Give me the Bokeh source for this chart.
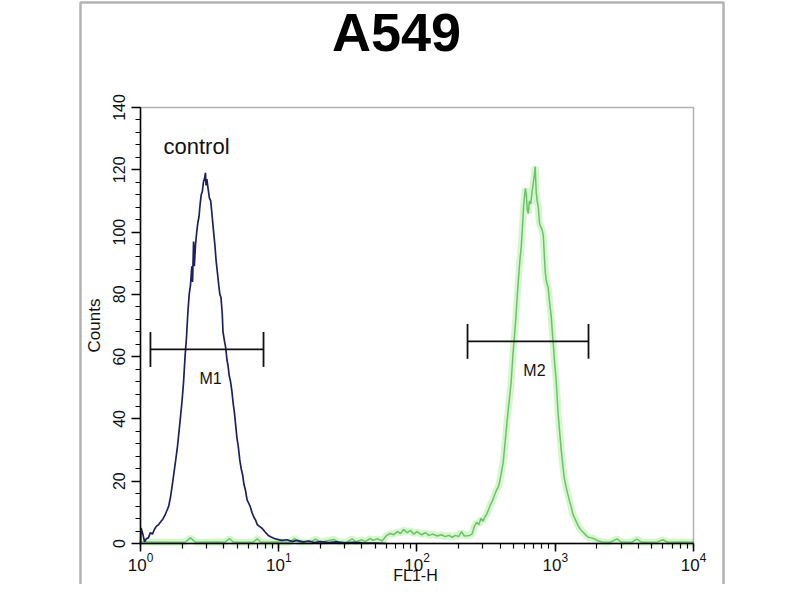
from bokeh.plotting import figure
from bokeh.models import (Range1d, SingleIntervalTicker, LogTicker, Label,
                          BoxAnnotation, ColumnDataSource)
from bokeh.embed import file_html
from bokeh.resources import INLINE

# ---------------- data ----------------
title_text = "A549"
x_label = "FL1-H"
y_label = "Counts"
control_label = "control"

control_x = [1.00, 1.01, 1.04, 1.07, 1.10, 1.14, 1.18, 1.22, 1.26, 1.30, 1.35, 1.40,
             1.45, 1.50, 1.55, 1.60, 1.65, 1.70, 1.75, 1.80, 1.85, 1.90, 1.95, 2.00,
             2.05, 2.10, 2.15, 2.20, 2.25, 2.30, 2.35, 2.38, 2.42, 2.45, 2.50, 2.55,
             2.60, 2.65, 2.70, 2.75, 2.80, 2.85, 2.90, 2.95, 2.98, 3.02, 3.08, 3.15,
             3.22, 3.30, 3.38, 3.45, 3.52, 3.60, 3.68, 3.75, 3.82, 3.90, 3.95, 4.05,
             4.13, 4.22, 4.30, 4.38, 4.48, 4.58, 4.68, 4.78, 4.88, 4.98, 5.10, 5.22,
             5.35, 5.48, 5.60, 5.75, 5.90, 6.05, 6.20, 6.40, 6.60, 6.80, 7.00, 7.30,
             7.60, 8.00, 8.40, 8.80, 9.30, 9.80, 10.5, 11.5, 12.5, 13.5, 15.0, 16.5,
             18.0, 20.0, 23.0, 26.0, 30.0, 35.0, 40.0, 50.0, 60.0]
control_counts = [0.0, 5.0, 3.0, 0.5, 1.5, 1.8, 3.5, 3.0, 4.5, 5.5, 6.0, 7.0,
                  7.8, 9.0, 10.5, 12.0, 15.0, 19.0, 23.0, 27.0, 31.0, 36.0, 41.0, 46.0,
                  52.0, 60.0, 66.0, 74.0, 80.0, 83.0, 89.0, 84.0, 97.0, 89.0, 96.0, 100.0,
                  103.0, 105.0, 109.0, 112.0, 113.0, 116.0, 117.0, 119.0, 115.0, 117.0, 114.0, 111.0,
                  110.0, 105.0, 100.0, 96.0, 91.0, 87.0, 83.0, 80.0, 79.0, 74.0, 68.0, 65.0,
                  63.0, 59.0, 57.0, 54.0, 52.0, 49.0, 45.0, 42.0, 38.0, 34.0, 31.0, 27.0,
                  24.0, 22.0, 19.0, 17.0, 14.0, 13.0, 12.0, 10.0, 8.5, 7.5, 6.0, 5.4,
                  4.8, 3.6, 2.6, 2.1, 1.6, 1.3, 1.0, 1.2, 0.6, 1.0, 0.5, 0.8,
                  0.3, 0.6, 0.3, 0.5, 0.2, 0.4, 0.2, 0.1, 0.0]

sample_x = [1.0, 1.5, 2.1, 2.3, 2.5, 3.5, 4.1, 4.4, 4.7, 6.5, 7.0, 7.4,
            10.0, 12.0, 13.0, 14.0, 17.0, 18.5, 20.0, 25.0, 27.0, 31.0, 34.0, 36.0,
            40.0, 42.0, 46.0, 48.0, 52.0, 56.0, 60.0, 64.0, 68.0, 72.0, 76.0, 80.0,
            85.0, 90.0, 95.0, 100.0, 108.0, 115.0, 122.0, 130.0, 140.0, 150.0, 160.0, 170.0,
            180.0, 190.0, 200.0, 210.0, 220.0, 230.0, 240.0, 250.0, 260.0, 270.0, 280.0, 290.0,
            300.0, 310.0, 320.0, 330.0, 340.0, 350.0, 360.0, 375.0, 390.0, 405.0, 420.0, 435.0,
            450.0, 465.0, 480.0, 495.0, 510.0, 520.0, 530.0, 540.0, 555.0, 567.0, 580.0, 590.0,
            598.0, 608.0, 618.0, 628.0, 638.0, 650.0, 665.0, 680.0, 695.0, 705.0, 716.0, 728.0,
            740.0, 755.0, 768.0, 780.0, 800.0, 819.0, 835.0, 847.0, 865.0, 890.0, 912.0, 935.0,
            952.0, 968.0, 990.0, 1017.0, 1035.0, 1052.0, 1080.0, 1105.0, 1135.0, 1162.0, 1200.0, 1230.0,
            1262.0, 1300.0, 1340.0, 1373.0, 1420.0, 1470.0, 1543.0, 1600.0, 1680.0, 1734.0, 1820.0, 1917.0,
            2050.0, 2200.0, 2500.0, 2800.0, 3000.0, 3600.0, 3900.0, 4200.0, 5500.0, 6000.0, 6500.0, 8000.0,
            10000.0]
sample_counts = [0.5, 0.4, 0.4, 1.8, 0.4, 0.5, 0.4, 1.6, 0.4, 0.4, 1.5, 0.4,
                 0.5, 0.4, 1.6, 0.4, 0.5, 1.4, 0.4, 1.3, 0.5, 0.4, 1.5, 0.5,
                 1.2, 0.5, 1.6, 1.0, 1.5, 0.8, 2.5, 3.2, 2.8, 3.8, 3.2, 4.5,
                 3.5, 4.2, 3.0, 3.8, 2.8, 3.5, 2.6, 3.0, 2.4, 2.8, 2.2, 2.6,
                 2.0, 2.6, 2.2, 3.8, 2.4, 2.5, 2.6, 3.0, 5.5, 6.8, 6.0, 8.0,
                 7.2, 8.5, 9.5, 11.0, 12.5, 13.5, 15.0, 17.0, 18.5, 22.0, 26.0, 33.0,
                 40.0, 46.0, 52.0, 61.0, 68.0, 73.0, 79.0, 84.0, 91.0, 95.0, 102.0, 108.0,
                 111.0, 114.0, 112.0, 107.0, 106.0, 110.0, 109.0, 113.0, 116.0, 118.0, 121.0, 113.0,
                 110.0, 108.0, 103.0, 102.0, 101.0, 99.0, 92.0, 87.0, 84.0, 82.0, 77.0, 73.0,
                 68.0, 64.0, 58.0, 52.0, 46.0, 41.0, 35.0, 30.0, 25.0, 21.0, 18.0, 16.0,
                 14.0, 12.0, 9.5, 8.4, 7.0, 5.5, 4.2, 3.5, 2.5, 2.0, 1.8, 1.5,
                 0.8, 0.5, 0.4, 1.5, 0.4, 0.5, 1.4, 0.4, 0.5, 1.2, 0.4, 0.5,
                 0.4]

gate_names = ["M1", "M2"]
gate_lo = [1.18, 232.0]
gate_hi = [7.76, 1740.0]
gate_level = [62.3, 64.9]
gate_label_x = [3.21, 707.0]

x_axis_min, x_axis_max = 1, 10000
y_axis_min, y_axis_max = 0, 140

# ---------------- figure ----------------
FONT = "Liberation Sans"

# The frame covers the whole outer panel; the axes are fixed inside it.
p = figure(width=784, height=584, x_axis_type="log",
           x_range=Range1d(0.3444, 17618), y_range=Range1d(-13.17, 174.36),
           output_backend="svg", toolbar_location=None, title=None,
           min_border_left=76, min_border_right=57,
           min_border_top=0, min_border_bottom=0)
p.grid.visible = False
p.background_fill_color = "white"
p.border_fill_color = "white"
p.outline_line_color = None

for ax in (p.xaxis[0], p.yaxis[0]):
    ax.axis_line_color = "black"
    ax.axis_line_width = 1.5
    ax.major_tick_line_color = "black"
    ax.major_tick_line_width = 1.5
    ax.minor_tick_line_color = "black"
    ax.minor_tick_line_width = 1.2
    ax.major_tick_in = 0
    ax.minor_tick_in = 0
    ax.major_tick_out = 9
    ax.minor_tick_out = 5
    ax.major_label_text_font = FONT
    ax.major_label_text_color = "#111111"
    ax.axis_label_text_font = FONT
    ax.axis_label_text_font_style = "normal"
    ax.axis_label_text_color = "#111111"

yax = p.yaxis[0]
yax.fixed_location = x_axis_min
yax.bounds = (y_axis_min, y_axis_max)
yax.ticker = SingleIntervalTicker(interval=20, num_minor_ticks=5)
yax.major_label_orientation = "vertical"
yax.major_label_text_font_size = "16px"
yax.axis_label = y_label
yax.axis_label_text_font_size = "17px"
yax.axis_label_standoff = 7
yax.major_label_standoff = 6

xax = p.xaxis[0]
xax.fixed_location = y_axis_min
xax.bounds = (x_axis_min, x_axis_max)
xax.ticker = LogTicker(mantissas=[1], num_minor_ticks=10)
xax.major_tick_out = 8
xax.major_label_text_font_size = "17px"
xax.major_label_standoff = 2

# inner plot box (top and right sides)
p.add_layout(BoxAnnotation(left=x_axis_min, right=x_axis_max,
                           bottom=y_axis_min, top=y_axis_max,
                           fill_alpha=0, line_color="black", line_width=1.5))
# outer panel box (its bottom runs past the picture)
p.add_layout(BoxAnnotation(left=0.3681, right=16482, bottom=-60, top=173.7,
                           fill_alpha=0, line_color="#000000", line_width=2.5))

# sample (green) histogram with glow
src_s = ColumnDataSource(dict(x=sample_x, y=sample_counts))
p.line("x", "y", source=src_s, line_color="#c4f3b8", line_width=7, line_alpha=0.7)
p.line("x", "y", source=src_s, line_color="#6cc06c", line_width=1.5)

# control (navy) histogram
src_c = ColumnDataSource(dict(x=control_x, y=control_counts))
p.line("x", "y", source=src_c, line_color="#1f2060", line_width=1.7)

# gates
cap = 5.6
p.segment(x0=gate_lo, x1=gate_hi, y0=gate_level, y1=gate_level,
          line_color="#111111", line_width=1.8)
p.segment(x0=gate_lo, x1=gate_lo, y0=[v - cap for v in gate_level],
          y1=[v + cap for v in gate_level], line_color="#111111", line_width=1.8)
p.segment(x0=gate_hi, x1=gate_hi, y0=[v - cap for v in gate_level],
          y1=[v + cap for v in gate_level], line_color="#111111", line_width=1.8)
for name, gx, lv in zip(gate_names, gate_label_x, gate_level):
    p.add_layout(Label(x=gx, y=lv - 9.2, text=name, text_align="center",
                       text_baseline="alphabetic", text_font=FONT,
                       text_font_size="16px", text_color="#111111"))

# texts
p.add_layout(Label(x=1.467, y=127.4, text=control_label, text_align="left",
                   text_baseline="alphabetic", text_font=FONT,
                   text_font_size="22px", text_color="#111111"))
p.add_layout(Label(x=71.1, y=164.2, text=title_text, text_align="center",
                   text_baseline="alphabetic", text_font=FONT,
                   text_font_size="54px", text_font_style="bold",
                   text_color="#000000"))
p.add_layout(Label(x=97.5, y=-10.15, text=x_label, text_align="center",
                   text_baseline="alphabetic", text_font=FONT,
                   text_font_size="16px", text_color="#111111"))

open("out.html", "w").write(file_html(p, INLINE))
